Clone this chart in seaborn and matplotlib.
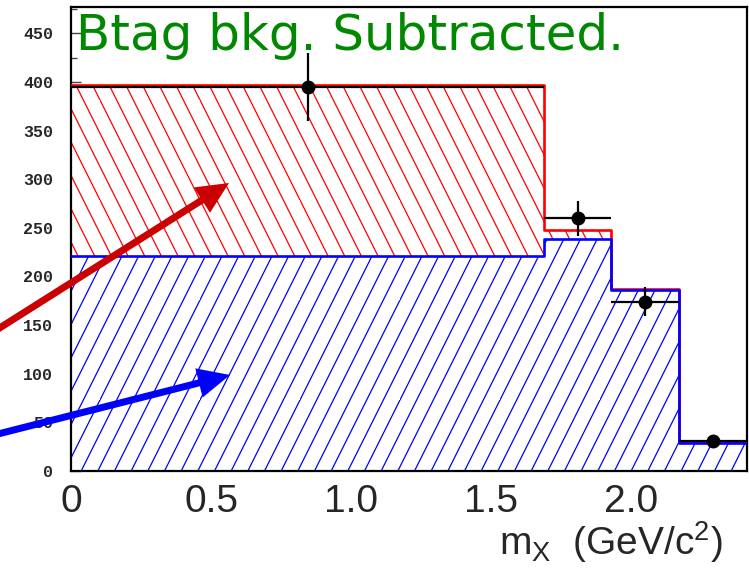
import numpy as np
import matplotlib
matplotlib.use("Agg")
import matplotlib.pyplot as plt
import matplotlib.hatch as mhatch
from matplotlib.path import Path
import seaborn as sns
from matplotlib.patches import FancyArrow
from matplotlib.transforms import IdentityTransform
from matplotlib.ticker import MultipleLocator, FuncFormatter

# m_X binning (GeV/c^2) and contents per bin
bin_edges = [0.0, 1.69, 1.93, 2.17, 2.414]
total_bkg = [397, 248, 187, 30]        # red hatched histogram
blue_comp = [221, 239, 186, 28.5]      # blue hatched histogram
data_vals = [395, 260, 174, 31]        # measured points
data_errs = [35, 18, 15, 3]
xtick_labels = ["0", "0.5", "1.0", "1.5", "2.0"]
title_text = "Btag bkg. Subtracted."


# Steeper (slope +/-2) diagonal hatching for '/' and '\'
class _SteepHatch(mhatch.HatchPatternBase):
    char = "/"
    rising = True

    def __init__(self, hatch, density):
        n = int(hatch.count(self.char) * density)
        self.offsets = np.arange(-(n // 2), n) / n if n else np.zeros(0)
        self.num_vertices = 2 * len(self.offsets)

    def set_vertices_and_codes(self, vertices, codes):
        c = self.offsets
        lo, hi = (0.0, 1.0) if self.rising else (1.0, 0.0)
        vertices[0::2, 0] = c
        vertices[0::2, 1] = lo
        vertices[1::2, 0] = c + 0.5
        vertices[1::2, 1] = hi
        codes[0::2] = Path.MOVETO
        codes[1::2] = Path.LINETO


class _SteepNE(_SteepHatch):
    char = "/"
    rising = True


class _SteepSE(_SteepHatch):
    char = "\\"
    rising = False


mhatch._hatch_types = [
    _SteepNE if t is mhatch.NorthEastHatch else
    _SteepSE if t is mhatch.SouthEastHatch else t
    for t in mhatch._hatch_types
]

sns.set_style("ticks")
plt.rcParams["hatch.linewidth"] = 0.9
plt.rcParams["mathtext.fontset"] = "custom"
plt.rcParams["mathtext.rm"] = "Liberation Sans"
plt.rcParams["mathtext.it"] = "Liberation Sans"

W, H = 749, 574
fig = plt.figure(figsize=(W / 100, H / 100), dpi=100)
ax = fig.add_axes([71 / W, 1 - 471 / H, (747 - 71) / W, (471 - 7) / H])

edges = np.array(bin_edges)
centers = 0.5 * (edges[:-1] + edges[1:])
half_w = 0.5 * np.diff(edges)

# hatched fills
sns.histplot(x=centers, weights=total_bkg, bins=bin_edges, element="bars",
             fill=True, facecolor="white", edgecolor="#ff0000", hatch="\\",
             linewidth=0, ax=ax)
sns.histplot(x=centers, weights=blue_comp, bins=bin_edges, element="bars",
             fill=True, facecolor="white", edgecolor="#0000ff", hatch="/",
             linewidth=0, ax=ax)

# histogram outlines
ax.step(edges, list(total_bkg) + [total_bkg[-1]], where="post",
        color="#ff0000", lw=1.9, zorder=3)
ax.step(edges, list(blue_comp) + [blue_comp[-1]], where="post",
        color="#0000ff", lw=1.9, zorder=4)

# data points
ax.errorbar(centers, data_vals, yerr=data_errs, xerr=half_w, fmt="o",
            color="black", ms=9, elinewidth=1.6, capsize=0, zorder=5)

ax.set_xlim(0, bin_edges[-1])
ax.set_ylim(0, 477)
ax.set_ylabel("")

# axes styling
for s in ax.spines.values():
    s.set_linewidth(1.6)
    s.set_color("black")
    s.set_visible(True)

ax.xaxis.set_major_locator(MultipleLocator(0.25))
ax.xaxis.set_minor_locator(MultipleLocator(0.05))
label_map = {round(float(v), 2): t for v, t in zip([0, 0.5, 1.0, 1.5, 2.0], xtick_labels)}
ax.xaxis.set_major_formatter(FuncFormatter(lambda v, p: label_map.get(round(v, 2), "")))
ax.yaxis.set_major_locator(MultipleLocator(50))
ax.yaxis.set_minor_locator(MultipleLocator(25))

ax.tick_params(axis="x", which="major", direction="in", length=8, width=1.0,
               color="#555555", pad=9, labelsize=28)
ax.tick_params(axis="x", which="minor", direction="in", length=4.5, width=1.0,
               color="#555555")
ax.tick_params(axis="y", which="major", direction="in", length=7, width=1.0,
               color="#444444", pad=13, labelsize=12)
ax.tick_params(axis="y", which="minor", direction="in", length=4, width=1.0,
               color="#444444")
for lab in ax.get_xticklabels():
    lab.set_fontfamily("Liberation Sans")
for lab in ax.get_yticklabels():
    lab.set_fontfamily("Liberation Mono")
    lab.set_fontweight("bold")

xl = ax.set_xlabel(r"m$_{\mathrm{X}}$  (GeV/c$^{2}$)", fontsize=28,
                   fontfamily="Liberation Sans", loc="right")
xl.set_verticalalignment("baseline")
ax.xaxis.set_label_coords((723 - 71) / (747 - 71), -(555 - 471) / (471 - 7))

# title
fig.text(76 / W, 1 - 50 / H, title_text, color="#008800", fontsize=36,
         fontfamily="DejaVu Sans", ha="left", va="baseline")

# annotation arrows (figure pixel coordinates)
def arrow(x0, y0, x1, y1, color):
    a = FancyArrow(x0, H - y0, x1 - x0, -(y1 - y0), width=7, head_width=30,
                   head_length=32, length_includes_head=True, color=color,
                   lw=0, transform=IdentityTransform(), zorder=10)
    fig.add_artist(a)

arrow(-2, 329, 229, 183, "#cc0000")
arrow(-2, 434, 230, 375, "#0000ff")

fig.savefig("out.png", dpi=100)
